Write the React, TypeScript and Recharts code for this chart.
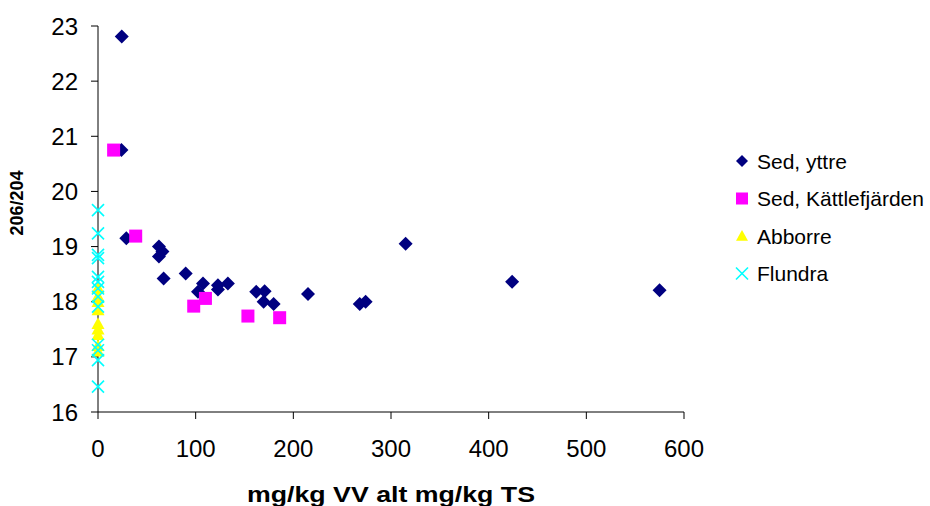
import React from 'react';
import { ScatterChart, Scatter, XAxis, YAxis, Label } from 'recharts';

// [x, y] pairs
const sedYttre: [number, number][] = [
  [24.3, 22.81], [24, 20.75], [29, 19.15], [62.4, 19.0], [66, 18.91], [62.4, 18.82],
  [67.2, 18.42], [89.8, 18.51], [107.5, 18.33], [102.4, 18.18], [122.8, 18.3],
  [122.8, 18.22], [133, 18.33], [162, 18.18], [170.6, 18.19], [169.6, 18.0],
  [179.8, 17.96], [215, 18.14], [268, 17.96], [274, 18.0], [315, 19.05],
  [424, 18.36], [575, 18.21],
];
const sedKattle: [number, number][] = [
  [16, 20.75], [38.6, 19.19], [98, 17.92], [110, 18.06], [153.5, 17.74], [186, 17.71],
];
const abborreY = [18.25, 18.1, 18.0, 17.85, 17.6, 17.5, 17.4, 17.2, 17.1];
const flundraY = [19.66, 19.24, 18.85, 18.79, 18.45, 18.36, 18.24, 18.09, 17.91, 17.22, 17.12, 16.94, 16.46];

const xTicks = [0, 100, 200, 300, 400, 500, 600];
const yTicks = [16, 17, 18, 19, 20, 21, 22, 23];

const seriesNames = ['Sed, yttre', 'Sed, Kättlefjärden', 'Abborre', 'Flundra'];

const FONT = '"Liberation Sans", Arial, sans-serif';

const toPoints = (pairs: [number, number][]) => pairs.map(([x, y]) => ({ x, y }));
const atZero = (ys: number[]) => ys.map((y) => ({ x: 0, y }));

const Diamond = ({ cx, cy, r = 7 }: any) => (
  <polygon points={`${cx},${cy - r} ${cx + r},${cy} ${cx},${cy + r} ${cx - r},${cy}`} fill="#000080" />
);
const Square = ({ cx, cy, r = 6.5 }: any) => (
  <rect x={cx - r} y={cy - r} width={r * 2} height={r * 2} fill="#FF00FF" />
);
const Triangle = ({ cx, cy, r = 6.5 }: any) => (
  <polygon points={`${cx},${cy - r} ${cx + r},${cy + r * 0.8} ${cx - r},${cy + r * 0.8}`} fill="#FFFF00" />
);
const Cross = ({ cx, cy, r = 6 }: any) => (
  <g stroke="#00FFFF" strokeWidth={1.6}>
    <line x1={cx - r} y1={cy - r} x2={cx + r} y2={cy + r} />
    <line x1={cx - r} y1={cy + r} x2={cx + r} y2={cy - r} />
  </g>
);

const markers = [Diamond, Square, Triangle, Cross];

// legend drawn beside the plot, like the Excel original
const LegendBox = () => (
  <svg width={200} height={150} style={{ position: 'absolute', left: 733, top: 142 }}>
    {seriesNames.map((name, i) => {
      const Marker = markers[i];
      const cy = 19 + i * 37.5;
      return (
        <g key={name}>
          <Marker cx={9} cy={cy} r={6} />
          <text x={24} y={cy + 7.5} fontSize={21} fontFamily={FONT} fill="#000">
            {name}
          </text>
        </g>
      );
    })}
  </svg>
);

export default function App() {
  return (
    <div style={{ position: 'absolute', left: 0, top: 0, width: 930, height: 506, background: '#fff' }}>
      <ScatterChart width={930} height={506} margin={{ top: 26, right: 246, bottom: 0, left: 0 }}>
        <XAxis
          type="number"
          dataKey="x"
          domain={[0, 600]}
          ticks={xTicks}
          height={94}
          tickSize={7}
          tickMargin={21}
          axisLine={{ stroke: '#000' }}
          tickLine={{ stroke: '#000' }}
          tick={{ fill: '#000', fontSize: 24, fontFamily: FONT }}
        >
          <Label
            content={({ viewBox }: any) => (
              <text
                x={viewBox.x + viewBox.width / 2}
                y={viewBox.y + 90}
                textAnchor="middle"
                fontSize={22}
                fontWeight="bold"
                fontFamily={FONT}
                textLength={288}
                lengthAdjust="spacingAndGlyphs"
                fill="#000"
              >
                mg/kg VV alt mg/kg TS
              </text>
            )}
          />
        </XAxis>
        <YAxis
          type="number"
          dataKey="y"
          domain={[16, 23]}
          ticks={yTicks}
          width={98}
          tickSize={7}
          tickMargin={13}
          axisLine={{ stroke: '#000' }}
          tickLine={{ stroke: '#000' }}
          tick={{ fill: '#000', fontSize: 24, fontFamily: FONT }}
        >
          <Label
            content={() => (
              <text
                x={23}
                y={203}
                transform="rotate(-90 23 203)"
                textAnchor="middle"
                fontSize={18}
                fontWeight="bold"
                fontFamily={FONT}
                fill="#000"
              >
                206/204
              </text>
            )}
          />
        </YAxis>
        <Scatter name={seriesNames[0]} data={toPoints(sedYttre)} shape={<Diamond />} isAnimationActive={false} />
        <Scatter name={seriesNames[1]} data={toPoints(sedKattle)} shape={<Square />} isAnimationActive={false} />
        <Scatter name={seriesNames[2]} data={atZero(abborreY)} shape={<Triangle />} isAnimationActive={false} />
        <Scatter name={seriesNames[3]} data={atZero(flundraY)} shape={<Cross />} isAnimationActive={false} />
      </ScatterChart>
      <LegendBox />
    </div>
  );
}
